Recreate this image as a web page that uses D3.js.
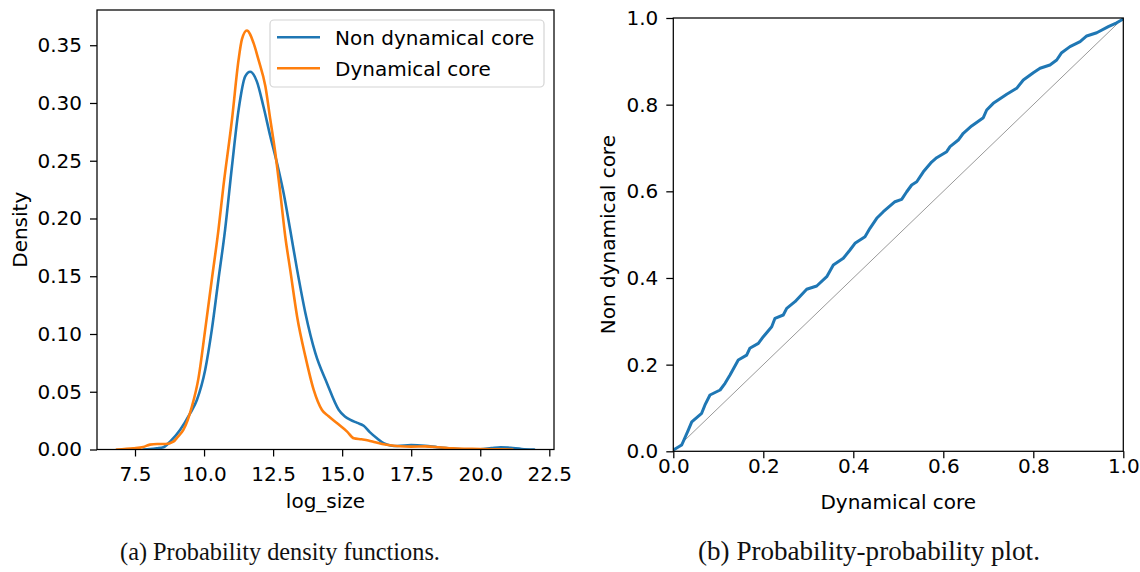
<!DOCTYPE html>
<html>
<head>
<meta charset="utf-8">
<script src="https://cdn.jsdelivr.net/npm/d3@7"></script>
<style>
  html, body { margin: 0; padding: 0; background: #fff; }
  svg { display: block; }
  .tick text { font-family: "DejaVu Sans", sans-serif; font-size: 20px; fill: #000; }
  .tick line { stroke: #000; stroke-width: 1.25; }
</style>
</head>
<body>
<svg id="chart" width="1140" height="572"></svg>
<script>
// ---------- DATA ----------
const seriesNames = ["Non dynamical core", "Dynamical core"];
const seriesColors = ["#1f77b4", "#ff7f0e"];

// KDE of log_size, Non dynamical core
const nonDynX = [7.8, 8.05, 8.29, 8.53, 8.77, 9.13, 9.5, 9.74, 10.04, 10.28, 10.52, 10.76, 11.01, 11.25, 11.49, 11.67, 11.91, 12.15, 12.4, 12.64, 12.88, 13.12, 13.37, 13.67, 14.03, 14.45, 14.88, 15.1, 15.3, 15.55, 15.78, 16.0, 16.27, 16.5, 16.75, 17.0, 17.5, 18.0, 18.45, 19.0, 19.5, 20.0, 20.4, 20.74, 21.1, 21.5, 21.95];
const nonDynY = [0.0, 0.0003, 0.001, 0.002, 0.0068, 0.0169, 0.0314, 0.0429, 0.0689, 0.1036, 0.147, 0.19, 0.245, 0.294, 0.323, 0.327, 0.3187, 0.297, 0.271, 0.248, 0.222, 0.19, 0.1555, 0.118, 0.0834, 0.0574, 0.0342, 0.0285, 0.0256, 0.023, 0.0205, 0.015, 0.0095, 0.0055, 0.0035, 0.003, 0.0038, 0.0032, 0.002, 0.0008, 0.0002, 0.0002, 0.0012, 0.002, 0.0014, 0.0005, 0.0];

// KDE of log_size, Dynamical core
const dynX = [6.84, 7.44, 7.8, 8.04, 8.3, 8.6, 8.89, 9.05, 9.25, 9.56, 9.8, 10.04, 10.28, 10.52, 10.7, 11.01, 11.25, 11.37, 11.55, 11.79, 11.97, 12.22, 12.4, 12.58, 12.76, 12.94, 13.12, 13.37, 13.67, 13.97, 14.27, 14.5, 14.82, 15.18, 15.42, 15.7, 15.95, 16.2, 16.45, 16.8, 17.1, 17.5, 18.0, 18.5, 19.0, 19.5, 20.0, 20.5, 21.17];
const dynY = [0.0, 0.001, 0.0022, 0.0042, 0.0047, 0.0047, 0.0068, 0.011, 0.0169, 0.0371, 0.062, 0.1036, 0.147, 0.19, 0.2278, 0.2855, 0.3375, 0.355, 0.3627, 0.352, 0.3375, 0.3144, 0.2855, 0.2567, 0.222, 0.1844, 0.1555, 0.115, 0.0804, 0.0516, 0.0342, 0.029, 0.0227, 0.0155, 0.0097, 0.0088, 0.0078, 0.0062, 0.0048, 0.0035, 0.0028, 0.0025, 0.0027, 0.002, 0.001, 0.0006, 0.0004, 0.0002, 0.0];

const kdeTicksX = [7.5, 10.0, 12.5, 15.0, 17.5, 20.0, 22.5];
const kdeTicksY = [0.00, 0.05, 0.10, 0.15, 0.20, 0.25, 0.30, 0.35];

// Probability-probability plot (x: Dynamical core, y: Non dynamical core)
const ppX = [0, 0.0187, 0.0333, 0.041, 0.063, 0.0704, 0.0815, 0.104, 0.115, 0.126, 0.1444, 0.163, 0.17, 0.189, 0.2, 0.2187, 0.226, 0.2444, 0.252, 0.2704, 0.2964, 0.3187, 0.341, 0.3556, 0.3778, 0.3926, 0.4037, 0.426, 0.437, 0.452, 0.4667, 0.4926, 0.5075, 0.5187, 0.5297, 0.541, 0.5556, 0.574, 0.5853, 0.6075, 0.615, 0.6333, 0.6444, 0.663, 0.6889, 0.6964, 0.711, 0.741, 0.763, 0.7778, 0.8, 0.815, 0.837, 0.852, 0.863, 0.8815, 0.904, 0.9187, 0.941, 0.9667, 0.9853, 0.998, 1.0];
const ppY = [0.003, 0.0145, 0.049, 0.068, 0.0877, 0.107, 0.13, 0.1415, 0.157, 0.176, 0.2107, 0.222, 0.2377, 0.249, 0.2645, 0.2876, 0.307, 0.3146, 0.33, 0.3453, 0.3739, 0.3815, 0.403, 0.43, 0.4454, 0.4646, 0.48, 0.495, 0.5146, 0.5377, 0.553, 0.576, 0.5816, 0.599, 0.6146, 0.622, 0.645, 0.6676, 0.6776, 0.6915, 0.703, 0.7184, 0.734, 0.7508, 0.77, 0.7877, 0.803, 0.824, 0.8377, 0.857, 0.8738, 0.884, 0.8915, 0.903, 0.92, 0.934, 0.9454, 0.9585, 0.966, 0.98, 0.989, 0.9966, 1.0];
const ppTicks = [0.0, 0.2, 0.4, 0.6, 0.8, 1.0];
const diagonal = [0, 1];

const captions = ["(a) Probability density functions.", "(b) Probability-probability plot."];

// ---------- LAYOUT ----------
const svg = d3.select("#chart");
const FONT = "DejaVu Sans, sans-serif";
const FS = 20;

// Left panel
const L = { left: 97, right: 554, top: 10, bottom: 449.5 };
const xL = d3.scaleLinear().domain([6.124, 22.67]).range([L.left, L.right]);
const yL = d3.scaleLinear().domain([0, 0.3805]).range([L.bottom, L.top]);

// Right panel
const R = { left: 673.3, right: 1123.3, top: 18, bottom: 451.3 };
const xR = d3.scaleLinear().domain([0, 1]).range([R.left, R.right]);
const yR = d3.scaleLinear().domain([0, 1]).range([R.bottom, R.top]);

// clip paths
const defs = svg.append("defs");
defs.append("clipPath").attr("id", "clipL").append("rect")
  .attr("x", L.left).attr("y", L.top).attr("width", L.right - L.left).attr("height", L.bottom - L.top);
defs.append("clipPath").attr("id", "clipR").append("rect")
  .attr("x", R.left).attr("y", R.top).attr("width", R.right - R.left).attr("height", R.bottom - R.top);

// ----- Left: KDE lines -----
const kdeSeries = [
  { name: seriesNames[0], color: seriesColors[0], pts: nonDynX.map((x, i) => [x, nonDynY[i]]) },
  { name: seriesNames[1], color: seriesColors[1], pts: dynX.map((x, i) => [x, dynY[i]]) }
];
const lineL = d3.line().x(d => xL(d[0])).y(d => yL(d[1])).curve(d3.curveMonotoneX);
const gL = svg.append("g").attr("clip-path", "url(#clipL)");
kdeSeries.forEach(s => {
  gL.append("path").attr("d", lineL(s.pts)).attr("fill", "none")
    .attr("stroke", s.color).attr("stroke-width", 2.6)
    .attr("stroke-linejoin", "round").attr("stroke-linecap", "round");
});

// axes left
svg.append("g").attr("transform", `translate(0,${L.bottom})`)
  .call(d3.axisBottom(xL).tickValues(kdeTicksX).tickFormat(d3.format(".1f")).tickSize(7).tickPadding(10.5))
  .call(g => g.select(".domain").remove());
svg.append("g").attr("transform", `translate(${L.left},0)`)
  .call(d3.axisLeft(yL).tickValues(kdeTicksY).tickFormat(d3.format(".2f")).tickSize(7).tickPadding(8))
  .call(g => g.select(".domain").remove());
svg.append("rect").attr("x", L.left).attr("y", L.top)
  .attr("width", L.right - L.left).attr("height", L.bottom - L.top)
  .attr("fill", "none").attr("stroke", "#000").attr("stroke-width", 1.25);

// legend
const lg = svg.append("g");
lg.append("rect").attr("x", 270).attr("y", 20).attr("width", 274).attr("height", 67)
  .attr("rx", 4).attr("fill", "#fff").attr("fill-opacity", 0.8)
  .attr("stroke", "#d4d4d4").attr("stroke-width", 1.2);
kdeSeries.forEach((s, i) => {
  const yy = 37.3 + i * 31;
  lg.append("line").attr("x1", 277).attr("x2", 320).attr("y1", yy).attr("y2", yy)
    .attr("stroke", s.color).attr("stroke-width", 2.6);
  lg.append("text").attr("x", 335).attr("y", yy + 7.2)
    .attr("font-family", FONT).attr("font-size", FS).attr("fill", "#000").text(s.name);
});

// axis labels left
svg.append("text").attr("x", (L.left + L.right) / 2).attr("y", 507.5)
  .attr("text-anchor", "middle").attr("font-family", FONT).attr("font-size", FS).text("log_size");
svg.append("text").attr("transform", `translate(26.5,${(L.top + L.bottom) / 2}) rotate(-90)`)
  .attr("text-anchor", "middle").attr("font-family", FONT).attr("font-size", FS).text("Density");

// ----- Right: PP plot -----
const gR = svg.append("g").attr("clip-path", "url(#clipR)");
gR.append("line").attr("x1", xR(diagonal[0])).attr("y1", yR(diagonal[0]))
  .attr("x2", xR(diagonal[1])).attr("y2", yR(diagonal[1]))
  .attr("stroke", "#999999").attr("stroke-width", 1);
const ppPts = ppX.map((x, i) => [x, ppY[i]]);
const lineR = d3.line().x(d => xR(d[0])).y(d => yR(d[1]));
gR.append("path").attr("d", lineR(ppPts)).attr("fill", "none")
  .attr("stroke", seriesColors[0]).attr("stroke-width", 3)
  .attr("stroke-linejoin", "round").attr("stroke-linecap", "round");

svg.append("g").attr("transform", `translate(0,${R.bottom})`)
  .call(d3.axisBottom(xR).tickValues(ppTicks).tickFormat(d3.format(".1f")).tickSize(7).tickPadding(0.5))
  .call(g => g.select(".domain").remove());
svg.append("g").attr("transform", `translate(${R.left},0)`)
  .call(d3.axisLeft(yR).tickValues(ppTicks).tickFormat(d3.format(".1f")).tickSize(7).tickPadding(8))
  .call(g => g.select(".domain").remove());
svg.append("rect").attr("x", R.left).attr("y", R.top)
  .attr("width", R.right - R.left).attr("height", R.bottom - R.top)
  .attr("fill", "none").attr("stroke", "#000").attr("stroke-width", 1.25);

svg.append("text").attr("x", (R.left + R.right) / 2).attr("y", 508.5)
  .attr("text-anchor", "middle").attr("font-family", FONT).attr("font-size", FS).text("Dynamical core");
svg.append("text").attr("transform", `translate(614.5,${(R.top + R.bottom) / 2}) rotate(-90)`)
  .attr("text-anchor", "middle").attr("font-family", FONT).attr("font-size", FS).text("Non dynamical core");

// ----- captions -----
const capCenters = [280, 869];
const capWidths = [320, 342];
captions.forEach((c, i) => {
  const t = svg.append("text").attr("x", capCenters[i]).attr("y", 560)
    .attr("text-anchor", "middle").attr("font-family", "Liberation Serif, DejaVu Serif, serif")
    .attr("font-size", 20).attr("fill", "#111").text(c);
  const w = t.node().getComputedTextLength();
  t.attr("font-size", 20 * capWidths[i] / w);
});
</script>
</body>
</html>
